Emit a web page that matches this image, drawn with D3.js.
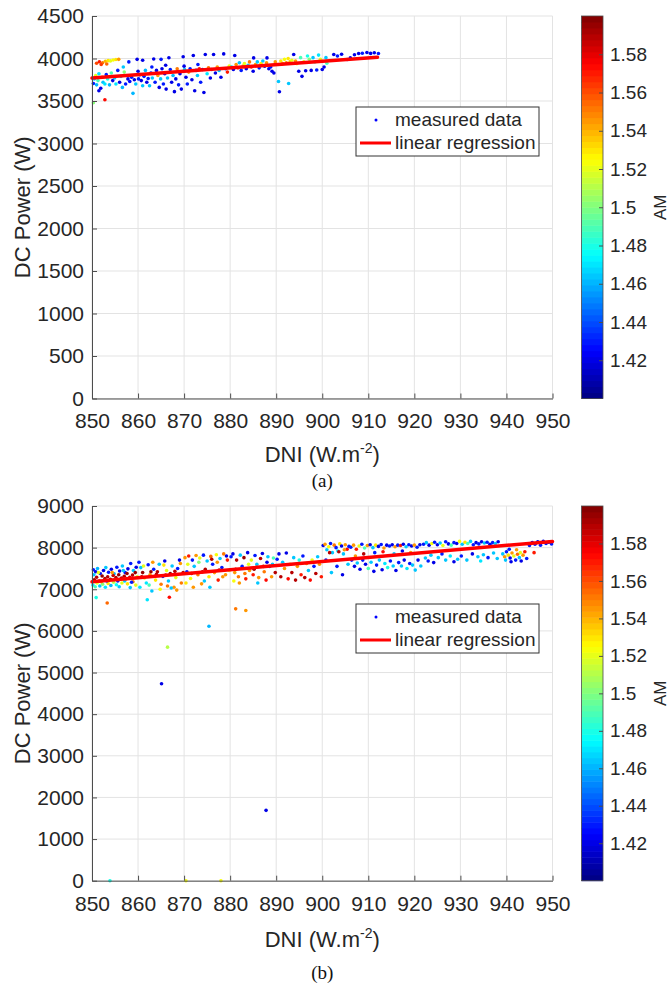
<!DOCTYPE html>
<html>
<head>
<meta charset="utf-8">
<script src="https://cdn.jsdelivr.net/npm/d3@7"></script>
<style>
body { margin: 0; background: #fff; }
text { font-family: "Liberation Sans", Arial, Helvetica, sans-serif; }
</style>
</head>
<body>
<script>
// DNI ticks, shared by both panels
var dniTicks = [850, 860, 870, 880, 890, 900, 910, 920, 930, 940, 950];
var powerTicksA = [0, 500, 1000, 1500, 2000, 2500, 3000, 3500, 4000, 4500];
var powerTicksB = [0, 1000, 2000, 3000, 4000, 5000, 6000, 7000, 8000, 9000];
var amTicks = [1.42, 1.44, 1.46, 1.48, 1.5, 1.52, 1.54, 1.56, 1.58];
var amTickLabels = ["1.42", "1.44", "1.46", "1.48", "1.5", "1.52", "1.54", "1.56", "1.58"];
var amRange = [1.4, 1.6];

// linear regression end points [DNI, W]
var regA = [[850, 3770], [912, 4016]];
var regB = [[850, 7180], [950, 8150]];

// measured data (a): [DNI, DC power, AM]
var dataA = [
	[851.0,3945,1.56],[851.6,3962,1.57],[852.3,3950,1.55],[852.9,3968,1.54],[853.5,3975,1.53],[854.0,3972,1.52],
	[854.6,3982,1.525],[855.2,3988,1.53],[855.8,3990,1.545],[853.2,3935,1.555],[852.0,3930,1.565],
	[850.3,3705,1.43],[850.5,3760,1.465],[850.8,3800,1.52],[851.0,3690,1.46],[851.3,3740,1.49],[851.5,3820,1.47],
	[851.9,3650,1.42],[852.2,3780,1.545],[852.4,3720,1.465],[852.8,3700,1.47],[853.1,3810,1.43],[853.4,3760,1.48],
	[853.8,3690,1.46],[854.2,3830,1.49],[854.5,3740,1.42],[854.9,3770,1.465],[855.2,3700,1.47],[855.6,3860,1.43],
	[856.0,3720,1.42],[856.3,3790,1.465],[856.6,3660,1.46],[857.0,3840,1.5],[857.3,3700,1.43],
	[850.3,3480,1.5],[852.8,3515,1.575],[851.5,3620,1.42],
	[857.8,3760,1.42],[858.2,3730,1.425],[858.6,3780,1.43],[858.9,3590,1.46],[859.2,3750,1.42],[859.5,3700,1.465],
	[859.8,3990,1.42],[860.1,3760,1.43],[860.4,3810,1.42],[860.7,3740,1.42],[861.0,3680,1.465],[861.3,3790,1.43],
	[861.6,3860,1.46],[861.9,3720,1.42],[862.2,3765,1.43],[862.5,3680,1.465],[862.8,3830,1.42],[863.1,3770,1.465],
	[863.4,3995,1.42],[863.7,3720,1.43],[864.0,3860,1.42],[864.3,3800,1.545],[864.6,3660,1.42],[864.9,3760,1.465],
	[865.2,3880,1.42],[865.5,3700,1.43],[865.8,3820,1.42],[866.1,3640,1.42],[866.4,3770,1.465],[866.7,4008,1.42],
	[867.0,3870,1.43],[867.3,3720,1.42],[867.6,3800,1.46],[867.9,3610,1.42],[868.2,3760,1.42],[868.5,3880,1.55],
	[868.8,3690,1.43],[869.1,3820,1.42],[869.4,3640,1.42],[869.8,4020,1.42],[870.1,3870,1.465],[870.4,3780,1.42],
	[870.7,3700,1.43],[871.0,3840,1.545],[871.3,3880,1.43],[871.7,3750,1.42],[872.0,4035,1.42],[872.3,3620,1.42],
	[872.6,3860,1.42],[872.9,3800,1.465],[873.3,3880,1.57],[873.6,3720,1.43],[874.0,3870,1.42],[874.3,3600,1.42],
	[874.6,4047,1.42],[875.0,3820,1.47],[875.3,3890,1.55],[875.7,3770,1.42],[876.0,3870,1.43],[876.4,4047,1.42],
	[876.8,3830,1.42],[877.2,3900,1.545],[877.6,3860,1.465],[878.0,3780,1.42],[878.6,4054,1.42],[879.0,3880,1.43],
	[879.4,3840,1.57],[879.8,3910,1.52],[856.8,3900,1.465],[858.0,3960,1.43],[861.0,3980,1.42],[865.0,3990,1.43],
	[860.0,3850,1.42],[863.0,3900,1.43],[866.0,3920,1.42],[870.0,3910,1.42],[873.0,3930,1.43],
	[880.3,3900,1.465],[880.7,3870,1.42],[881.0,4035,1.42],[881.3,3930,1.545],[881.7,3890,1.57],[882.0,3950,1.465],
	[882.4,3860,1.43],[882.8,3910,1.545],[883.1,3940,1.52],[883.5,3880,1.42],[883.9,3920,1.465],[884.2,3960,1.55],
	[884.6,3900,1.57],[885.0,3850,1.42],[885.1,4007,1.42],[885.5,3930,1.545],[885.9,3960,1.465],[886.3,3890,1.43],
	[886.7,3940,1.53],[887.1,3970,1.465],[887.5,3910,1.42],[887.9,3950,1.545],[888.0,4007,1.42],[888.4,3880,1.42],
	[888.8,3900,1.43],[889.1,3850,1.42],[889.5,3830,1.42],[889.8,3960,1.545],[890.5,3730,1.465],[890.7,3608,1.42],
	[892.7,3705,1.465],
	[891.0,3970,1.53],[891.4,3940,1.545],[891.8,3990,1.525],[892.2,3950,1.55],[892.6,4000,1.53],[893.0,3960,1.54],
	[893.4,3980,1.52],[893.8,4047,1.42],[894.2,3970,1.545],[894.5,3940,1.525],[894.9,3850,1.42],[895.3,4010,1.49],
	[895.6,3790,1.42],[896.0,3960,1.52],[896.4,3855,1.42],[896.8,4030,1.48],[897.2,3990,1.5],[897.6,3860,1.42],
	[898.0,4010,1.465],[898.4,3960,1.49],[898.8,3865,1.43],[899.2,4040,1.47],[899.6,3990,1.52],[900.0,3870,1.42],
	[900.4,3900,1.42],[900.8,4010,1.465],[901.0,3945,1.49],
	[902.5,4047,1.42],[903.3,4030,1.43],[904.2,4050,1.42],[905.4,3988,1.42],[906.1,4007,1.42],[907.0,4045,1.42],
	[907.9,4058,1.42],[908.7,4062,1.43],[909.7,4070,1.42],[910.5,4060,1.42],[911.3,4068,1.42],[912.2,4058,1.43]
];

// measured data (b): [DNI, DC power, AM]
var dataB = [
	[850.3,7470,1.43],[850.8,7420,1.42],[851.2,7500,1.46],[851.8,7380,1.43],[852.5,7450,1.42],[853.0,7520,1.465],
	[853.6,7410,1.43],[854.2,7480,1.42],[854.8,7370,1.46],[855.4,7530,1.43],[856.0,7440,1.42],[856.6,7560,1.465],
	[857.2,7400,1.43],[857.8,7490,1.42],[858.4,7620,1.43],[859.0,7450,1.465],[859.6,7530,1.42],
	[850.5,7230,1.595],[851.0,7290,1.59],[851.6,7200,1.585],[852.2,7320,1.595],[852.8,7260,1.59],[853.4,7300,1.59],
	[854.0,7240,1.595],[854.6,7330,1.585],[855.2,7280,1.59],[855.8,7350,1.595],[856.4,7270,1.59],[857.0,7310,1.59],
	[857.6,7380,1.595],[858.2,7290,1.585],[858.8,7340,1.59],[859.4,7400,1.595],
	[850.2,7100,1.47],[850.7,7060,1.49],[851.1,7150,1.52],[851.7,7080,1.465],[852.3,7120,1.5],[852.9,7050,1.47],
	[853.5,7140,1.53],[854.1,7090,1.46],[854.7,7170,1.51],[855.3,7110,1.475],[855.9,7060,1.465],[856.5,7150,1.52],
	[857.1,7200,1.465],[857.7,7130,1.53],[858.3,7040,1.465],[858.9,7180,1.55],[859.5,7100,1.52],
	[850.4,7350,1.465],[851.4,7400,1.52],[852.0,7180,1.545],[853.2,7200,1.43],[854.4,7400,1.545],[855.6,7200,1.43],
	[856.8,7450,1.465],[857.4,7250,1.545],[858.6,7170,1.43],[859.8,7300,1.52],
	[850.9,6800,1.48],[853.3,6670,1.555],[862.0,6750,1.47],[866.8,6810,1.575],[875.4,6110,1.46],[881.2,6530,1.55],
	[883.4,6490,1.545],[866.4,5610,1.51],[865.1,4730,1.42],[887.8,1690,1.42],[853.9,0,1.48],[870.4,0,1.525],[878.0,0,1.525],
	[860.2,7650,1.43],[860.6,7520,1.465],[861.0,7400,1.595],[861.4,7270,1.52],[861.8,7150,1.47],[862.2,7590,1.43],
	[862.6,7350,1.545],[863.0,6960,1.465],[863.4,7480,1.43],[863.8,7220,1.53],[864.2,7420,1.59],[864.6,7600,1.465],
	[865.0,7120,1.55],[865.4,7310,1.43],[865.8,7680,1.42],[866.2,7450,1.52],[866.6,7200,1.465],[867.0,7380,1.595],
	[867.4,7560,1.465],[867.8,7050,1.545],[868.2,7280,1.52],[868.6,7500,1.43],[869.0,7700,1.42],[869.4,7150,1.55],
	[869.8,7400,1.59],[860.8,7300,1.59],[862.8,7420,1.595],[864.0,7360,1.59],[866.0,7340,1.585],[868.0,7430,1.59],
	[861.2,7560,1.52],[863.2,7650,1.545],[865.6,7580,1.53],[867.2,7030,1.465],[869.2,7620,1.545],[860.4,7050,1.47],
	[862.4,7100,1.49],[864.8,7000,1.525],[866.4,7080,1.55],[868.4,6980,1.545],
	[870.2,7760,1.545],[870.6,7420,1.43],[871.0,7800,1.57],[871.4,7260,1.525],[871.8,7700,1.43],[872.2,7550,1.465],
	[872.6,7810,1.545],[873.0,7350,1.55],[873.4,7750,1.52],[873.8,7130,1.545],[874.2,7820,1.43],[874.6,7480,1.59],
	[875.0,7680,1.465],[875.4,7300,1.53],[875.8,7790,1.555],[876.2,7600,1.43],[876.6,7400,1.545],[877.0,7830,1.525],
	[877.4,7220,1.57],[877.8,7740,1.465],[878.2,7520,1.43],[878.6,7850,1.55],[879.0,7350,1.545],[879.4,7700,1.57],
	[879.8,7450,1.52],[870.8,7600,1.52],[872.0,7050,1.545],[873.2,7650,1.5],[874.4,7200,1.465],[876.0,7720,1.59],
	[877.2,7650,1.545],[878.4,7300,1.545],[879.2,7800,1.42],[870.4,7150,1.53],[875.6,7050,1.465],[871.6,7380,1.59],
	[874.0,7420,1.595],[877.6,7460,1.59],
	[880.2,7780,1.43],[880.6,7850,1.42],[881.0,7400,1.545],[881.4,7700,1.59],[881.8,7300,1.55],[882.2,7820,1.465],
	[882.6,7550,1.43],[883.0,7760,1.595],[883.4,7250,1.57],[883.8,7880,1.42],[884.2,7450,1.545],[884.6,7700,1.52],
	[885.0,7350,1.57],[885.4,7810,1.43],[885.8,7600,1.465],[886.2,7280,1.545],[886.6,7740,1.59],[887.0,7860,1.42],
	[887.4,7420,1.55],[887.8,7220,1.575],[888.2,7780,1.465],[888.6,7550,1.43],[889.0,7300,1.545],[889.4,7750,1.49],
	[889.8,7400,1.59],[880.8,7200,1.525],[882.0,7150,1.545],[884.0,7600,1.52],[886.0,7150,1.465],[888.0,7650,1.42],
	[881.2,7480,1.59],[883.2,7380,1.55],[885.2,7480,1.595],[887.2,7550,1.59],[889.2,7600,1.465],
	[890.2,7720,1.43],[890.6,7850,1.42],[891.0,7300,1.59],[891.4,7650,1.465],[891.8,7500,1.545],[892.2,7870,1.42],
	[892.6,7250,1.575],[893.0,7600,1.52],[893.4,7400,1.59],[893.8,7760,1.465],[894.2,7220,1.59],[894.6,7550,1.545],
	[895.0,7700,1.48],[895.4,7350,1.57],[895.8,7800,1.43],[896.2,7280,1.59],[896.6,7620,1.545],[897.0,7450,1.465],
	[897.4,7220,1.575],[897.8,7700,1.52],[898.2,7550,1.43],[898.6,7380,1.59],[899.0,7780,1.465],[899.4,7600,1.545],
	[899.8,7300,1.57],
	[900.2,8050,1.42],[900.6,8080,1.545],[901.0,7950,1.465],[901.4,8020,1.525],[901.8,8100,1.43],[902.2,7880,1.465],
	[902.6,8060,1.55],[903.0,8000,1.43],[903.4,7920,1.47],[903.8,8090,1.53],[904.2,8040,1.42],[904.6,7850,1.465],
	[905.0,8070,1.545],[905.4,7960,1.575],[905.8,8030,1.43],[900.8,7700,1.43],[902.0,7400,1.465],[903.2,7550,1.43],
	[904.4,7350,1.42],[905.6,7600,1.465],[901.6,7880,1.59],[903.6,7900,1.59],[904.8,7950,1.545],
	[906.2,8010,1.43],[906.8,8060,1.545],[907.4,7960,1.57],[908.0,8040,1.52],[908.6,8080,1.43],[909.2,7990,1.49],
	[909.8,8050,1.545],[910.4,8070,1.42],[911.0,8000,1.465],[911.6,8060,1.53],[912.2,8030,1.42],[912.8,8075,1.43],
	[913.4,7990,1.545],[914.0,8060,1.42],[914.6,8040,1.43],[915.2,8070,1.42],[915.8,8020,1.545],[916.4,8060,1.43],
	[917.0,8050,1.57],[917.6,8080,1.42],[918.2,8020,1.465],[918.8,8070,1.43],[919.4,8040,1.42],[920.0,8060,1.545],
	[920.6,8010,1.43],[921.2,8070,1.42],
	[906.4,7700,1.43],[907.0,7550,1.42],[907.6,7630,1.465],[908.2,7480,1.42],[908.8,7700,1.43],[909.4,7600,1.42],
	[910.0,7500,1.49],[910.6,7650,1.465],[911.2,7430,1.42],[911.8,7580,1.43],[912.4,7700,1.465],[913.0,7470,1.42],
	[913.6,7620,1.47],[914.2,7520,1.48],[914.8,7680,1.43],[915.4,7560,1.465],[916.0,7450,1.42],[916.6,7640,1.43],
	[917.2,7560,1.465],[917.8,7700,1.42],[918.4,7500,1.47],[919.0,7620,1.43],[919.6,7580,1.465],[920.2,7460,1.465],
	[920.8,7700,1.42],[921.4,7560,1.465],
	[907.2,7800,1.545],[909.0,7850,1.59],[911.4,7880,1.43],[913.2,7900,1.575],[915.6,7850,1.465],[917.4,7920,1.42],
	[919.2,7880,1.545],
	[922.0,8080,1.43],[922.6,8120,1.465],[923.2,8060,1.42],[923.8,8100,1.525],[924.4,8130,1.43],[925.0,8070,1.42],
	[925.6,8110,1.465],[926.2,8050,1.52],[926.8,8140,1.43],[927.4,8090,1.42],[928.0,8060,1.49],[928.6,8120,1.43],
	[929.2,8100,1.42],[929.8,8150,1.525],[930.4,8080,1.465],[931.0,8130,1.53],[931.6,8100,1.49],[932.2,8150,1.465],
	[932.8,8070,1.43],[933.4,8120,1.42],[934.0,8090,1.43],[934.6,8140,1.42],[935.2,8110,1.465],[935.8,8130,1.43],
	[936.4,8080,1.42],[937.0,8120,1.43],[937.6,8100,1.465],[938.2,8140,1.42],
	[922.4,7750,1.465],[923.0,7680,1.43],[923.6,7820,1.465],[924.2,7640,1.42],[925.2,7760,1.465],[926.0,7850,1.43],
	[926.8,7700,1.465],[927.8,7800,1.47],[928.6,7660,1.42],[929.4,7720,1.465],[930.2,7800,1.43],[931.4,7700,1.465],
	[932.6,7850,1.42],[933.8,7780,1.465],[934.4,7680,1.47],[935.0,7830,1.465],[936.0,7760,1.43],[937.2,7870,1.465],
	[938.0,7740,1.465],
	[939.2,7850,1.465],[939.6,7780,1.545],[940.0,7900,1.43],[940.4,7820,1.53],[940.8,7750,1.42],[941.2,7870,1.545],
	[941.6,7800,1.52],[942.0,7700,1.43],[942.4,7840,1.555],[942.8,7760,1.465],[943.2,7680,1.42],[943.6,7820,1.545],
	[944.0,7900,1.57],[944.4,7740,1.43],[939.8,7700,1.465],[941.0,7660,1.42],[942.2,7950,1.545],[943.0,7880,1.52],
	[940.6,7960,1.43],
	[945.0,8050,1.43],[945.6,8120,1.42],[946.2,8080,1.43],[946.8,8140,1.42],[947.4,8060,1.43],[948.0,8150,1.42],
	[948.6,8100,1.43],[949.2,8130,1.42],[949.8,8090,1.43],[946.0,7880,1.57]
];

var axiscolor = "#4d4d4d",
	textcolor = "#262626",
	gridcolor = "#e3e3e3",
	regcolor = "#ff0000",
	nLevels = 64;

// MATLAB-like jet, quantised to 64 levels
function jet(t) {
	var clamp = function(v) { return Math.max(0, Math.min(1, v)); };
	return d3.rgb(
		255 * clamp(1.5 - Math.abs(4 * t - 3)),
		255 * clamp(1.5 - Math.abs(4 * t - 2)),
		255 * clamp(1.5 - Math.abs(4 * t - 1))
	) + "";
}
function amColor(am) {
	var t = (am - amRange[0]) / (amRange[1] - amRange[0]);
	var k = Math.max(0, Math.min(nLevels - 1, Math.floor(t * nLevels)));
	return jet((k + 0.5) / nLevels);
}

var svg = d3.select("body").append("svg")
	.attr("width", 671)
	.attr("height", 985);
svg.append("rect").attr("width", 671).attr("height", 985).attr("fill", "#fff");

function drawPanel(p) {
	var x = d3.scaleLinear().domain([850, 950]).range([p.left, p.right]);
	var y = d3.scaleLinear().domain([0, p.yTicks[p.yTicks.length - 1]]).range([p.bottom, p.top]);
	var g = svg.append("g");

	// grid
	g.selectAll(".gx").data(dniTicks).enter().append("line")
		.attr("x1", function(d) { return x(d); })
		.attr("x2", function(d) { return x(d); })
		.attr("y1", p.top)
		.attr("y2", p.bottom)
		.attr("stroke", gridcolor)
		.attr("stroke-width", 1);
	g.selectAll(".gy").data(p.yTicks).enter().append("line")
		.attr("x1", p.left)
		.attr("x2", p.right)
		.attr("y1", function(d) { return y(d); })
		.attr("y2", function(d) { return y(d); })
		.attr("stroke", gridcolor)
		.attr("stroke-width", 1);

	// scatter
	g.selectAll(".pt").data(p.data).enter().append("circle")
		.attr("cx", function(d) { return x(d[0]); })
		.attr("cy", function(d) { return y(d[1]); })
		.attr("r", 1.8)
		.attr("fill", function(d) { return amColor(d[2]); });

	// regression
	g.append("path")
		.datum(p.reg)
		.attr("fill", "none")
		.attr("stroke", regcolor)
		.attr("stroke-width", 3.5)
		.attr("stroke-linecap", "round")
		.attr("d", d3.line()
			.x(function(d) { return x(d[0]); })
			.y(function(d) { return y(d[1]); }));

	// axes, ticks pointing inwards
	var bot = g.append("g")
		.attr("transform", "translate(0," + p.bottom + ")")
		.call(d3.axisBottom(x).tickValues(dniTicks).tickFormat(d3.format("d"))
			.tickSizeInner(-5).tickSizeOuter(0).tickPadding(15));
	var left = g.append("g")
		.attr("transform", "translate(" + p.left + ",0)")
		.call(d3.axisLeft(y).tickValues(p.yTicks).tickFormat(d3.format("d"))
			.tickSizeInner(-5).tickSizeOuter(0).tickPadding(8));
	[bot, left].forEach(function(a) {
		a.selectAll("line").style("stroke", axiscolor);
		a.selectAll("path").style("stroke", axiscolor);
		a.selectAll("text")
			.style("fill", textcolor)
			.style("font-size", "21px")
			.style("font-family", "'Liberation Sans', Arial, sans-serif");
	});

	// axis labels
	svg.append("text")
		.attr("transform", "translate(30," + ((p.top + p.bottom) / 2) + ") rotate(-90)")
		.attr("text-anchor", "middle")
		.attr("fill", textcolor)
		.style("font-size", "22px")
		.text("DC Power (W)");
	var xl = svg.append("text")
		.attr("x", (p.left + p.right) / 2)
		.attr("y", p.xLabelY)
		.attr("text-anchor", "middle")
		.attr("fill", textcolor)
		.style("font-size", "22px");
	xl.append("tspan").text("DNI (W.m");
	xl.append("tspan").attr("dy", -9).style("font-size", "14px").text("-2");
	xl.append("tspan").attr("dy", 9).text(")");
	svg.append("text")
		.attr("x", (p.left + p.right) / 2)
		.attr("y", p.caption[1])
		.attr("text-anchor", "middle")
		.attr("fill", "#111")
		.style("font-family", "'Liberation Serif', 'Times New Roman', serif")
		.style("font-size", "19px")
		.text(p.caption[0]);

	// legend
	var lg = g.append("g").attr("transform", "translate(356," + p.legendTop + ")");
	lg.append("rect")
		.attr("width", 183)
		.attr("height", 49)
		.attr("fill", "#fff")
		.attr("stroke", "#333")
		.attr("stroke-width", 1);
	lg.append("circle")
		.attr("cx", 20)
		.attr("cy", 13)
		.attr("r", 1.5)
		.attr("fill", "#0000ff");
	lg.append("line")
		.attr("x1", 4).attr("x2", 35)
		.attr("y1", 36).attr("y2", 36)
		.attr("stroke", regcolor)
		.attr("stroke-width", 3);
	lg.append("text").attr("x", 39).attr("y", 19).attr("fill", textcolor).style("font-size", "19px").text("measured data");
	lg.append("text").attr("x", 39).attr("y", 42).attr("fill", textcolor).style("font-size", "19px").text("linear regression");

	// colorbar
	var cy = d3.scaleLinear().domain(amRange).range([p.bottom, p.top]);
	var cb = svg.append("g");
	var step = (amRange[1] - amRange[0]) / nLevels;
	cb.selectAll("rect").data(d3.range(nLevels)).enter().append("rect")
		.attr("x", 581.5)
		.attr("width", 21.5)
		.attr("y", function(k) { return cy(amRange[0] + (k + 1) * step); })
		.attr("height", function(k) { return cy(amRange[0] + k * step) - cy(amRange[0] + (k + 1) * step) + 0.5; })
		.attr("fill", function(k) { return jet((k + 0.5) / nLevels); });
	cb.append("rect")
		.attr("x", 581.5)
		.attr("y", p.top)
		.attr("width", 21.5)
		.attr("height", p.bottom - p.top)
		.attr("fill", "none")
		.attr("stroke", axiscolor)
		.attr("stroke-width", 0.8);
	var cax = cb.append("g")
		.attr("transform", "translate(603,0)")
		.call(d3.axisRight(cy).tickValues(amTicks)
			.tickFormat(function(d, i) { return amTickLabels[i]; })
			.tickSizeInner(-4).tickSizeOuter(0).tickPadding(7));
	cax.select(".domain").remove();
	cax.selectAll("line").style("stroke", axiscolor);
	cax.selectAll("text")
		.style("fill", textcolor)
		.style("font-size", "19px")
		.style("font-family", "'Liberation Sans', Arial, sans-serif");
	svg.append("text")
		.attr("transform", "translate(666," + ((p.top + p.bottom) / 2) + ") rotate(-90)")
		.attr("text-anchor", "middle")
		.attr("fill", textcolor)
		.style("font-size", "17px")
		.text("AM");
}

drawPanel({
	data: dataA, reg: regA, yTicks: powerTicksA,
	left: 92, right: 552.5, top: 16, bottom: 398.5,
	legendTop: 107, xLabelY: 462, caption: ["(a)", 487]
});
drawPanel({
	data: dataB, reg: regB, yTicks: powerTicksB,
	left: 92, right: 552.5, top: 506, bottom: 880.7,
	legendTop: 604, xLabelY: 947, caption: ["(b)", 979]
});
</script>
</body>
</html>
